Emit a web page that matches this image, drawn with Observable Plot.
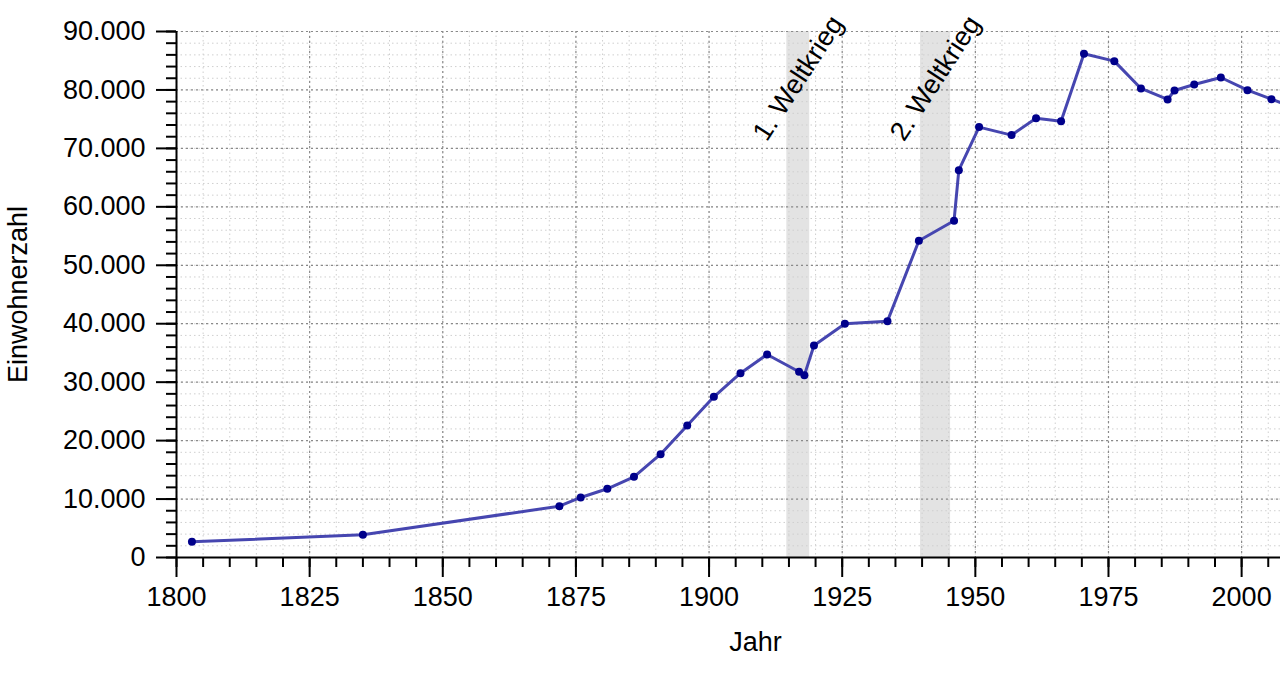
<!DOCTYPE html>
<html>
<head>
<meta charset="utf-8">
<script src="https://cdn.jsdelivr.net/npm/d3@7"></script>
<script src="https://cdn.jsdelivr.net/npm/@observablehq/plot@0.6"></script>
<style>
  html, body { margin: 0; padding: 0; background: #fff; overflow: hidden; }
  #chart { width: 1280px; height: 673px; }
</style>
</head>
<body>
<div id="chart"></div>
<script>
const years = [1802.9, 1835.0, 1871.9, 1875.9, 1880.9, 1885.9, 1890.9, 1895.9, 1900.9, 1905.9, 1910.9,
  1916.9, 1917.9, 1919.7, 1925.5, 1933.5, 1939.4, 1946.0, 1946.9, 1950.7, 1956.8, 1961.4, 1966.1,
  1970.4, 1976.1, 1981.1, 1986.1, 1987.4, 1991.1, 1996.1, 2001.1, 2005.6, 2011.4];
const population = [2680, 3880, 8780, 10270, 11760, 13800, 17680, 22590, 27500, 31540, 34740,
  31780, 31200, 36280, 39990, 40440, 54190, 57610, 66280, 73640, 72270, 75170, 74660,
  86190, 84930, 80250, 78370, 79910, 80940, 82130, 79960, 78420, 76500];

const warLabels = ["1. Weltkrieg", "2. Weltkrieg"];
const warStart = [1914.6, 1939.7];
const warEnd = [1918.9, 1945.35];

const xMajorTicks = [1800, 1825, 1850, 1875, 1900, 1925, 1950, 1975, 2000];
const yMajorTicks = [0, 10000, 20000, 30000, 40000, 50000, 60000, 70000, 80000, 90000];

const data = years.map((y, i) => ({year: y, pop: population[i]}));
const wars = warLabels.map((l, i) => ({label: l, start: warStart[i], end: warEnd[i]}));
const xMinorTicks = d3.range(1800, 2008, 5);
const yMinorTicks = d3.range(0, 90001, 2000);

const de = d3.formatLocale({decimal: ",", thousands: ".", grouping: [3], currency: ["", " €"]});
const fmt = de.format(",d");

const FS = 27;

const chart = Plot.plot({
  width: 1280,
  height: 673,
  marginLeft: 176,
  marginRight: 0,
  marginTop: 31,
  marginBottom: 116,
  style: {fontFamily: "'Liberation Sans', Arial, sans-serif", fontSize: FS + "px", background: "#fff", overflow: "visible"},
  x: {domain: [1800, 2007.3]},
  y: {domain: [0, 90000]},
  marks: [
    Plot.rect(wars, {x1: "start", x2: "end", fill: "#e3e3e3"}),
    Plot.gridX(xMinorTicks, {stroke: "#cfcfcf", strokeOpacity: 1, strokeDasharray: "1.5,3", strokeWidth: 1}),
    Plot.gridY(yMinorTicks, {stroke: "#cfcfcf", strokeOpacity: 1, strokeDasharray: "1.5,3", strokeWidth: 1}),
    Plot.gridX(xMajorTicks, {stroke: "#8a8a8a", strokeOpacity: 1, strokeDasharray: "2,3", strokeWidth: 1.2}),
    Plot.gridY(yMajorTicks, {stroke: "#8a8a8a", strokeOpacity: 1, strokeDasharray: "2,3", strokeWidth: 1.2}),
    Plot.axisX(xMinorTicks, {tickSize: 10, tickFormat: () => "", strokeWidth: 2, label: null}),
    Plot.axisX(xMajorTicks, {tickSize: 20, tickPadding: 9, tickFormat: d => String(d), strokeWidth: 2, fontSize: FS, label: null, fill: "#000"}),
    Plot.axisY(yMinorTicks, {tickSize: 10, tickFormat: () => "", strokeWidth: 2, label: null}),
    Plot.axisY(yMajorTicks, {tickSize: 20, tickPadding: 11, tickFormat: fmt, strokeWidth: 2, fontSize: FS, label: null, fill: "#000"}),
    Plot.ruleX([1800], {strokeWidth: 2}),
    Plot.ruleY([0], {strokeWidth: 2}),
    Plot.text(wars, {x: d => (d.start + d.end) / 2, y: () => 82000, text: "label", rotate: -57, fontSize: FS, textAnchor: "middle", lineAnchor: "middle", fill: "#000"}),
    Plot.line(data, {x: "year", y: "pop", stroke: "#4646b0", strokeWidth: 3, clip: true}),
    Plot.dot(data, {x: "year", y: "pop", r: 4, fill: "#00008b", stroke: "none", clip: true}),
    Plot.text(["Einwohnerzahl"], {frameAnchor: "left", rotate: -90, dx: -158, fontSize: FS, fill: "#000", textAnchor: "middle"}),
    Plot.text(["Jahr"], {frameAnchor: "bottom", dx: 27, dy: 93, fontSize: FS, fill: "#000"})
  ]
});
document.getElementById("chart").appendChild(chart);
</script>
</body>
</html>
